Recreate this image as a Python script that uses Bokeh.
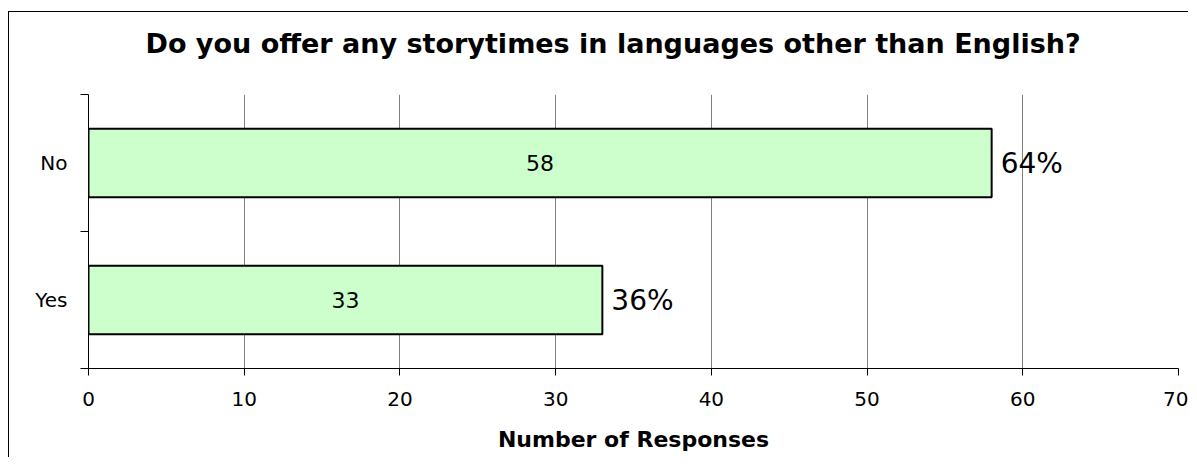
from bokeh.plotting import figure
from bokeh.models import Range1d, FixedTicker, ColumnDataSource, Title
from bokeh.core.properties import value
from bokeh.embed import file_html
from bokeh.resources import INLINE

TITLE = "Do you offer any storytimes in languages other than English?"
categories = ["Yes", "No"]
counts = [33, 58]
percents = ["36%", "64%"]
x_ticks = [0, 10, 20, 30, 40, 50, 60, 70]

FONT = "DejaVu Sans"

pos = [i + 0.5 for i in range(len(categories))]
src = ColumnDataSource(dict(
    y=pos, right=counts, mid=[c / 2 for c in counts],
    label=[str(c) for c in counts], pct=percents,
))

p = figure(width=1180, height=446, output_backend="svg", toolbar_location=None,
           x_range=Range1d(0, 70), y_range=Range1d(0, len(categories)),
           min_border_left=79, min_border_right=11, min_border_top=82, min_border_bottom=90)
# trailing empty line keeps the title high above the plot frame
p.title = Title(text=TITLE + "\n", align="left", vertical_align="bottom",
                offset=57, text_font=FONT, text_font_size="27px",
                text_font_style="bold", text_color="black", standoff=10,
                text_line_height=1.0)
p.outline_line_color = None
p.background_fill_color = "white"
p.border_fill_color = "white"
p.styles = {"border-left": "1px solid black", "border-top": "1px solid black",
            "margin-top": "11px", "margin-left": "8px"}

p.hbar(y="y", left=0, right="right", height=0.5, source=src,
       fill_color="#CCFFCC", line_color="black", line_width=2)
p.text(x="mid", y="y", text="label", source=src, text_align="center",
       text_baseline="middle", text_font=value(FONT), text_font_size="22px",
       text_color="black")
p.text(x="right", y="y", text="pct", source=src, x_offset=9, text_align="left",
       text_baseline="middle", text_font=value(FONT), text_font_size="28px",
       text_color="black")

# x axis
xa = p.xaxis[0]
xa.ticker = FixedTicker(ticks=x_ticks, minor_ticks=[])
xa.axis_label = "Number of Responses"
xa.axis_label_text_font = FONT
xa.axis_label_text_font_size = "22px"
xa.axis_label_text_font_style = "bold"
xa.axis_label_text_color = "black"
xa.axis_label_standoff = 18
xa.major_label_text_font = FONT
xa.major_label_text_font_size = "20px"
xa.major_label_text_color = "black"
xa.major_label_standoff = 16
xa.major_tick_out = 7
xa.major_tick_in = 0
xa.axis_line_color = "black"
xa.major_tick_line_color = "black"

# y axis
ya = p.yaxis[0]
ya.ticker = FixedTicker(ticks=pos, minor_ticks=list(range(len(categories) + 1)))
ya.major_label_overrides = {pv: c for pv, c in zip(pos, categories)}
ya.major_label_text_font = FONT
ya.major_label_text_font_size = "20px"
ya.major_label_text_color = "black"
ya.major_tick_line_color = None
ya.major_label_standoff = 13
ya.minor_tick_out = 8
ya.minor_tick_in = 0
ya.minor_tick_line_color = "black"
ya.axis_line_color = "black"

p.ygrid.grid_line_color = None
p.xgrid.grid_line_color = "#808080"
p.xgrid.ticker = FixedTicker(ticks=x_ticks)

open("out.html", "w").write(file_html(p, INLINE))
